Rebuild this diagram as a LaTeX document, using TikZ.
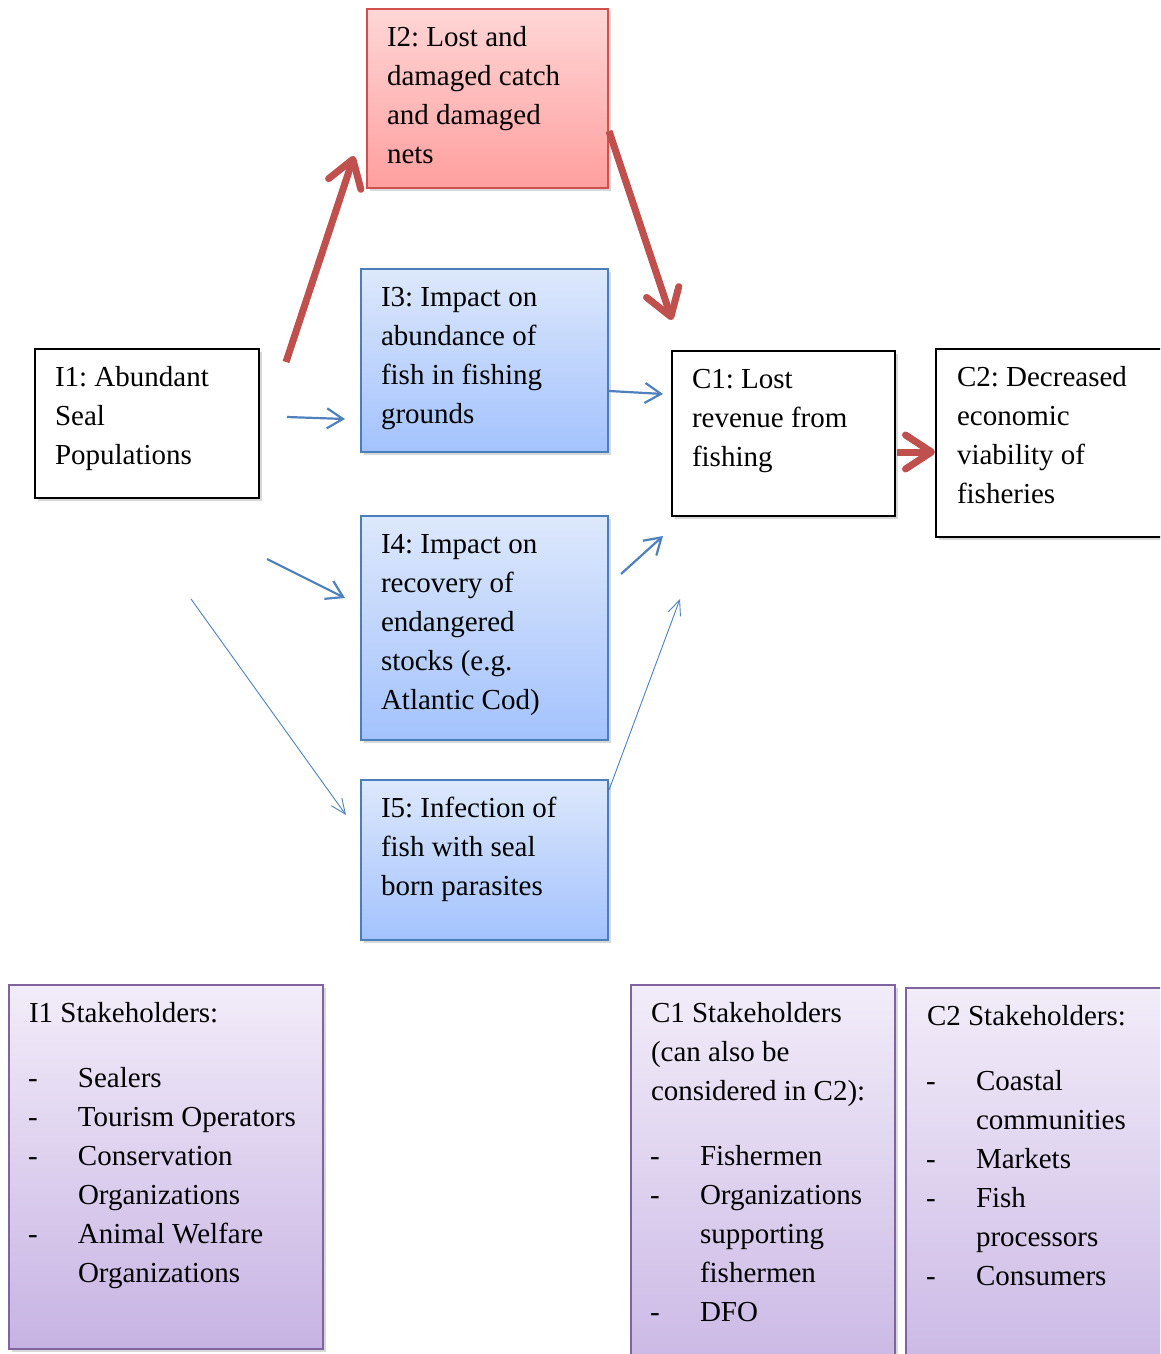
\documentclass[tikz,border=0pt]{standalone}
\usepackage{fontspec}
\setmainfont{Liberation Serif}
\frenchspacing
\usetikzlibrary{arrows.meta,shadows}
\definecolor{redarr}{HTML}{C0504D}
\definecolor{bluearr}{HTML}{4F81BD}
\definecolor{redtop}{HTML}{FFD6D6}
\definecolor{redbot}{HTML}{FF9E9E}
\definecolor{redline}{HTML}{D0504D}
\definecolor{bluetop}{HTML}{DDE8FC}
\definecolor{bluebot}{HTML}{A3C2FD}
\definecolor{blueline}{HTML}{4A7EBB}
\definecolor{purtop}{HTML}{F2ECF9}
\definecolor{purbot}{HTML}{C7B3E3}
\definecolor{purline}{HTML}{8064A2}
\newcommand{\mystrut}{\rule{0pt}{27pt}}
\newcommand{\stkitem}[1]{\makebox[49pt][l]{\hspace{-1pt}-}#1}
\newcommand{\stkcont}{\hspace*{49pt}}
\tikzset{
  box/.style={rectangle, anchor=north west, inner sep=0pt, outer sep=0pt,
    drop shadow={shadow xshift=2.5pt, shadow yshift=-2.5pt, opacity=0.3}},
  plainbox/.style={box, draw=black, line width=2pt, fill=white},
  redbox/.style={box, draw=redline, line width=2pt, top color=redtop, bottom color=redbot},
  bluebox/.style={box, draw=blueline, line width=2pt, top color=bluetop, bottom color=bluebot},
  purbox/.style={box, draw=purline, line width=2pt, top color=purtop, bottom color=purbot},
  txt/.style={anchor=north west, inner sep=0pt, outer sep=0pt, align=left,
    font=\fontsize{29pt}{39pt}\selectfont},
  redarrow/.style={draw=redarr, line width=7pt,
    -{Straight Barb[length=26pt,width=34pt,round]}},
  bluearrow/.style={draw=bluearr, line width=2.2pt,
    -{Straight Barb[length=16pt,width=20pt]}},
  thinarrow/.style={draw=bluearr, line width=0.9pt,
    -{Straight Barb[length=15pt,width=13pt]}},
}
\begin{document}
\begin{tikzpicture}[x=1pt,y=-1pt]
\clip (0,0) rectangle (1160,1354);
\fill[white] (0,0) rectangle (1160,1354);

% boxes
\node[plainbox, minimum width=224pt, minimum height=149pt] (i1) at (35,349) {};
\node[redbox, minimum width=241pt, minimum height=179pt] (i2) at (367,9) {};
\node[bluebox, minimum width=247pt, minimum height=183pt] (i3) at (361,269) {};
\node[plainbox, minimum width=223pt, minimum height=165pt] (c1) at (672,351) {};
\node[plainbox, minimum width=240pt, minimum height=188pt] (c2) at (936,349) {};
\node[bluebox, minimum width=247pt, minimum height=224pt] (i4) at (361,516) {};
\node[bluebox, minimum width=247pt, minimum height=160pt] (i5) at (361,780) {};
\node[purbox, minimum width=314pt, minimum height=364pt] (s1) at (9,985) {};
\node[purbox, minimum width=264pt, minimum height=420pt] (s2) at (631,985) {};
\node[purbox, minimum width=280pt, minimum height=420pt] (s3) at (906,988) {};

% texts
\node[txt] (i1t) at ([shift={(20pt,-10pt)}]i1.north west) {\mystrut I1: Abundant\\Seal\\Populations};
\node[txt] (i2t) at ([shift={(20pt,-10pt)}]i2.north west) {\mystrut I2: Lost and\\damaged catch\\and damaged\\nets};
\node[txt] (i3t) at ([shift={(20pt,-10pt)}]i3.north west) {\mystrut I3: Impact on\\abundance of\\fish in fishing\\grounds};
\node[txt] (c1t) at ([shift={(20pt,-10pt)}]c1.north west) {\mystrut C1: Lost\\revenue from\\fishing};
\node[txt] (c2t) at ([shift={(21pt,-10pt)}]c2.north west) {\mystrut C2: Decreased\\economic\\viability of\\fisheries};
\node[txt] (i4t) at ([shift={(20pt,-10pt)}]i4.north west) {\mystrut I4: Impact on\\recovery of\\endangered\\stocks (e.g.\\Atlantic Cod)};
\node[txt] (i5t) at ([shift={(20pt,-10pt)}]i5.north west) {\mystrut I5: Infection of\\fish with seal\\born parasites};
\node[txt] (s1t) at ([shift={(20pt,-10pt)}]s1.north west) {\mystrut I1 Stakeholders:\\[26pt]
  \stkitem{Sealers}\\\stkitem{Tourism Operators}\\\stkitem{Conservation}\\
  \stkcont Organizations\\\stkitem{Animal Welfare}\\\stkcont Organizations};
\node[txt] (s2t) at ([shift={(20pt,-10pt)}]s2.north west) {\mystrut C1 Stakeholders\\(can also be\\considered in C2):\\[26pt]
  \stkitem{Fishermen}\\\stkitem{Organizations}\\\stkcont supporting\\\stkcont fishermen\\\stkitem{DFO}};
\node[txt] (s3t) at ([shift={(21pt,-10pt)}]s3.north west) {\mystrut C2 Stakeholders:\\[26pt]
  \stkitem{Coastal}\\\stkcont communities\\\stkitem{Markets}\\\stkitem{Fish}\\\stkcont processors\\\stkitem{Consumers}};

% connector end points
\coordinate (r1s) at (286,362); \coordinate (r1e) at (354,156);
\coordinate (r2s) at (609,131); \coordinate (r2e) at (672,320);
\coordinate (r3s) at (897,452); \coordinate (r3e) at (935,452);
\coordinate (b1s) at (287,417); \coordinate (b1e) at (345,419);
\coordinate (b2s) at (609,391); \coordinate (b2e) at (663,394);
\coordinate (b3s) at (267,559); \coordinate (b3e) at (345,598);
\coordinate (b4s) at (621,574); \coordinate (b4e) at (663,536);
\coordinate (t1s) at (191,599); \coordinate (t1e) at (346,815);
\coordinate (t2s) at (609,790); \coordinate (t2e) at (680,599);

% connectors
\draw[redarrow] (r1s) -- (r1e);
\draw[redarrow] (r2s) -- (r2e);
\draw[redarrow] (r3s) -- (r3e);
\draw[bluearrow] (b1s) -- (b1e);
\draw[bluearrow] (b2s) -- (b2e);
\draw[bluearrow] (b3s) -- (b3e);
\draw[bluearrow] (b4s) -- (b4e);
\draw[thinarrow] (t1s) -- (t1e);
\draw[thinarrow] (t2s) -- (t2e);
\end{tikzpicture}
\end{document}
